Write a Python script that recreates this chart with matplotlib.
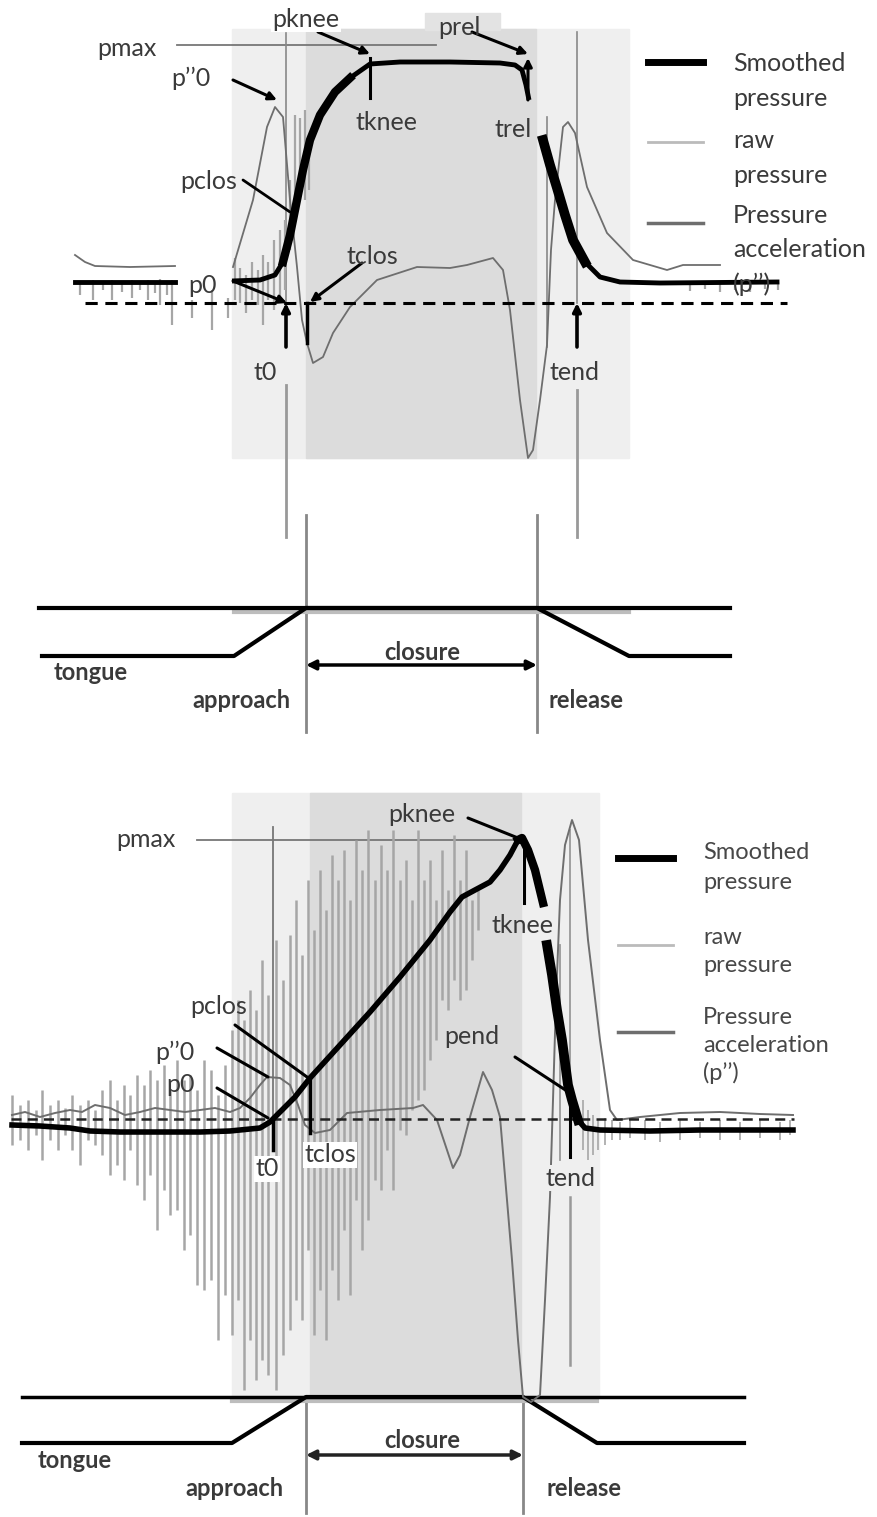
import numpy as np
import matplotlib.pyplot as plt
from matplotlib.patches import Rectangle

plt.rcParams['font.family'] = ['Lato', 'DejaVu Sans']

W, H = 877, 1517

# ---------------- top panel traces (x = time, y = signal, image px) ----------------
top_smooth_t1 = [75, 120, 175]
top_smooth_p1 = [282, 282, 282]
top_smooth_t2 = [232, 260, 275, 283, 290, 297, 303, 310, 320, 335, 350, 370, 400, 450, 500, 515, 522, 526, 529]
top_smooth_p2 = [281, 280, 275, 262, 235, 200, 170, 140, 115, 92, 78, 64, 62, 62, 63, 65, 70, 85, 100]
top_smooth_t3 = [543, 550, 557, 565, 573, 585, 600, 620, 660, 777]
top_smooth_p3 = [140, 165, 188, 215, 240, 262, 277, 282, 283, 282]

top_accel_t1 = [75, 85, 95, 130, 175]
top_accel_p1 = [255, 262, 266, 267, 266]
top_accel_t2 = [233, 253, 267, 275, 283, 290, 297, 302, 307, 313, 323, 333, 350, 377, 417, 450,
                467, 493, 503, 510, 520, 528, 533, 540, 547, 551, 555, 563, 568, 575, 587, 607,
                633, 667, 683, 720]
top_accel_p2 = [267, 200, 127, 107, 117, 200, 267, 320, 343, 363, 357, 333, 307, 280, 267, 268,
                265, 258, 270, 310, 400, 458, 450, 400, 345, 250, 200, 127, 122, 133, 187, 233,
                260, 270, 265, 265]

top_raw_t = [80, 93, 103, 112, 122, 132, 140, 148, 155, 160, 167, 172, 192, 212, 228,
             235, 240, 246, 252, 258, 263, 268, 274, 280, 285, 290, 295, 300, 305, 309,
             690, 705, 720, 735, 750, 765, 778]
top_raw_hi = [282, 280, 283, 280, 282, 280, 283, 280, 282, 279, 283, 280, 300, 290, 298,
              258, 268, 275, 262, 270, 255, 262, 240, 230, 220, 180, 115, 118, 110, 150,
              282, 282, 283, 282, 282, 283, 282]
top_raw_lo = [295, 300, 290, 300, 292, 298, 290, 300, 293, 305, 295, 325, 318, 330, 318,
              300, 303, 313, 300, 305, 325, 300, 310, 300, 290, 250, 205, 200, 200, 190,
              291, 289, 292, 290, 292, 289, 290]

# ---------------- bottom panel traces ----------------
bot_smooth_t1 = [12, 40, 70, 90, 120, 200, 230, 260, 270, 280, 295, 310, 340, 370, 400, 430,
                 450, 462, 475, 490, 500, 510, 518, 522, 528, 535, 543]
bot_smooth_p1 = [1125, 1126, 1128, 1131, 1132, 1132, 1131, 1128, 1122, 1112, 1097, 1078, 1045,
                 1012, 977, 940, 912, 897, 890, 882, 870, 855, 840, 838, 850, 870, 903]
bot_smooth_t2 = [547, 552, 557, 562, 568, 572, 578, 585, 600, 650, 700, 793]
bot_smooth_p2 = [945, 975, 1010, 1040, 1085, 1100, 1120, 1128, 1130, 1131, 1130, 1130]

bot_accel_t = [12, 25, 40, 55, 70, 82, 95, 110, 125, 140, 155, 170, 185, 200, 215, 230, 240,
               250, 260, 267, 280, 290, 298, 305, 315, 330, 347, 380, 413, 423, 437, 453, 460,
               470, 483, 492, 500, 507, 512, 518, 523, 531, 540, 545, 550, 553, 556, 560, 565,
               572, 579, 588, 600, 610, 617, 640, 680, 720, 760, 793]
bot_accel_p = [1115, 1112, 1117, 1113, 1110, 1112, 1105, 1108, 1115, 1112, 1108, 1110, 1112,
               1110, 1108, 1112, 1108, 1098, 1085, 1077, 1078, 1085, 1105, 1125, 1133, 1130,
               1113, 1110, 1108, 1105, 1120, 1168, 1155, 1117, 1072, 1090, 1117, 1200, 1260,
               1340, 1397, 1402, 1395, 1300, 1197, 1100, 1000, 900, 845, 820, 840, 940, 1040,
               1110, 1120, 1117, 1113, 1112, 1114, 1115]

bot_raw_t = [12, 20, 28, 36, 42, 50, 58, 65, 72, 80, 88, 95, 102, 110, 117, 124, 130, 137, 144,
             150, 157, 164, 170, 177, 184, 190, 197, 204, 211, 218, 225, 232, 238, 244, 250,
             256, 262, 268, 276, 283, 290, 296, 302, 308, 314, 320, 326, 332, 338, 344, 350,
             356, 362, 368, 375, 381, 387, 393, 400, 406, 412, 418, 424, 430, 436, 442, 448,
             454, 460, 466, 472, 478]
bot_raw_hi = [1095, 1105, 1100, 1110, 1090, 1105, 1100, 1108, 1095, 1105, 1100, 1110, 1090,
              1080, 1100, 1085, 1095, 1075, 1085, 1070, 1080, 1065, 1090, 1060, 1080, 1075,
              1090, 1060, 1070, 1095, 1065, 1030, 1000, 1020, 990, 1010, 960, 995, 940, 980,
              935, 900, 955, 880, 930, 870, 910, 855, 880, 850, 900, 840, 870, 830, 880, 845,
              870, 830, 880, 860, 900, 830, 880, 860, 900, 850, 890, 835, 880, 850, 900, 890]
bot_raw_lo = [1145, 1140, 1150, 1135, 1160, 1140, 1150, 1135, 1150, 1165, 1140, 1145, 1155,
              1175, 1165, 1180, 1150, 1185, 1200, 1175, 1230, 1190, 1215, 1210, 1250, 1235,
              1285, 1290, 1280, 1340, 1295, 1335, 1300, 1390, 1340, 1380, 1360, 1375, 1390,
              1355, 1330, 1300, 1320, 1250, 1335, 1290, 1340, 1270, 1300, 1230, 1295, 1200,
              1250, 1220, 1180, 1190, 1150, 1190, 1130, 1135, 1110, 1100, 1090, 1060, 1040,
              1000, 1010, 980, 1000, 990, 960, 930]
bot_raw_t2 = [583, 588, 593, 598, 605, 612, 620, 630, 645, 660, 680, 700, 720, 740, 760, 780, 790]
bot_raw_hi2 = [1100, 1110, 1115, 1120, 1118, 1120, 1122, 1120, 1120, 1122, 1120, 1122, 1120,
               1122, 1120, 1122, 1120]
bot_raw_lo2 = [1150, 1160, 1155, 1150, 1145, 1140, 1140, 1138, 1140, 1142, 1140, 1138, 1140,
               1140, 1138, 1140, 1135]

# articulator schematics (jaw line and tongue path)
top_jaw_x = [39, 730]
top_jaw_y = [608, 608]
top_tongue_x = [42, 234, 306, 537, 629, 730]
top_tongue_y = [656, 656, 608, 608, 656, 656]
bot_jaw_x = [22, 744]
bot_jaw_y = [1397, 1397]
bot_tongue_x = [22, 232, 306, 523, 597, 744]
bot_tongue_y = [1443, 1443, 1397, 1397, 1443, 1443]

LIGHT = '#efefef'
DARK = '#dcdcdc'
RAW = '#a6a6a6'
ACC = '#6e6e6e'
TXT = '#3a3a3a'


def arrow(ax, start, end, head=True, lw=2.2):
    ax.annotate('', xy=end, xytext=start,
                arrowprops=dict(arrowstyle='-|>' if head else '-', color='k', lw=lw,
                                mutation_scale=12, shrinkA=0, shrinkB=0), zorder=6)


def label(ax, x, y, s, size=18, color=TXT, box=None, **kw):
    t = ax.text(x, y, s, fontsize=size, color=color, ha='center', va='center', zorder=7, **kw)
    if box:
        t.set_bbox(dict(facecolor=box, edgecolor='none', pad=1))
    return t


def main():
    fig = plt.figure(figsize=(W / 100, H / 100), dpi=100)
    ax = fig.add_axes([0, 0, 1, 1])
    ax.set_xlim(0, W)
    ax.set_ylim(H, 0)
    ax.axis('off')

    # ================= top panel =================
    ax.add_patch(Rectangle((232, 29), 397, 429, color=LIGHT, zorder=0))
    ax.add_patch(Rectangle((306, 29), 230, 429, color=DARK, zorder=0))
    ax.add_patch(Rectangle((425, 13), 75, 17, color='#e3e3e3', zorder=0))

    ax.plot([177, 436], [45, 45], color='#777777', lw=1.3, zorder=2)
    ax.plot([286, 286], [33, 303], color='#888888', lw=1.2, zorder=2)
    ax.plot([577, 577], [32, 303], color='#888888', lw=1.2, zorder=2)
    ax.plot([547, 547], [117, 347], color='#888888', lw=1.2, zorder=2)
    ax.plot([286, 286], [385, 537], color='#999999', lw=2, zorder=2)
    ax.plot([577, 577], [390, 537], color='#999999', lw=2, zorder=2)

    ax.vlines(top_raw_t, top_raw_hi, top_raw_lo, color=RAW, lw=1.6, zorder=3)
    ax.plot(top_accel_t1, top_accel_p1, color=ACC, lw=1.3, zorder=3)
    ax.plot(top_accel_t2, top_accel_p2, color=ACC, lw=1.3, zorder=3)
    ax.plot([85, 787], [303, 303], color='k', lw=2.2, ls=(0, (4, 2.5)), zorder=4)

    ax.plot(top_smooth_t1, top_smooth_p1, color='k', lw=3.5, zorder=5)
    ax.plot(top_smooth_t2, top_smooth_p2, color='k', lw=3.5, zorder=5, solid_capstyle='butt')
    ax.plot(top_smooth_t2[3:11], top_smooth_p2[3:11], color='k', lw=6, zorder=5)
    ax.plot(top_smooth_t3, top_smooth_p3, color='k', lw=3.5, zorder=5)
    ax.plot(top_smooth_t3[:6], top_smooth_p3[:6], color='k', lw=7, zorder=5)

    # markers and annotations
    ax.plot([370, 370], [58, 98], color='k', lw=2.2, zorder=6)
    ax.plot([307, 307], [303, 343], color='k', lw=2.5, zorder=6)
    arrow(ax, (318, 32), (370, 54))
    arrow(ax, (472, 32), (528, 54))
    arrow(ax, (528, 100), (528, 58))
    arrow(ax, (233, 80), (277, 100))
    arrow(ax, (243, 180), (290, 212), head=False, lw=2)
    arrow(ax, (233, 281), (287, 303))
    arrow(ax, (362, 263), (310, 302))
    arrow(ax, (286, 347), (286, 303), lw=2.6)
    arrow(ax, (577, 347), (577, 303), lw=2.6)

    label(ax, 127, 48, 'pmax')
    label(ax, 306, 19, 'pknee', box='white')
    label(ax, 459, 27, 'prel')
    label(ax, 191, 78, 'p\u2019\u20190')
    label(ax, 209, 181, 'pclos')
    label(ax, 203, 285, 'p0')
    label(ax, 386, 122, 'tknee')
    label(ax, 513, 129, 'trel')
    label(ax, 372, 256, 'tclos')
    label(ax, 265, 372, 't0')
    label(ax, 575, 372, 'tend')

    # legend
    ax.plot([648, 703], [62, 62], color='k', lw=5, zorder=5)
    ax.plot([648, 703], [142, 142], color='#bbbbbb', lw=2, zorder=5)
    ax.plot([648, 703], [223, 223], color=ACC, lw=2.5, zorder=5)
    for y, s in [(63, 'Smoothed'), (98, 'pressure'), (140, 'raw'), (175, 'pressure'),
                 (215, 'Pressure'), (249, 'acceleration'), (284, '(p\u2019\u2019)')]:
        ax.text(733, y, s, fontsize=18, color=TXT, ha='left', va='center', zorder=7)

    # articulators
    ax.plot([306, 306], [515, 732], color='#888888', lw=2, zorder=2)
    ax.plot([537, 537], [515, 732], color='#888888', lw=2, zorder=2)
    ax.plot([234, 629], [612, 612], color='#bdbdbd', lw=3, zorder=2)
    ax.plot(top_jaw_x, top_jaw_y, color='k', lw=3, zorder=3)
    ax.plot(top_tongue_x, top_tongue_y, color='k', lw=3, zorder=3)
    ax.annotate('', xy=(537, 665), xytext=(306, 665),
                arrowprops=dict(arrowstyle='<|-|>', color='k', lw=2.5, mutation_scale=14,
                                shrinkA=0, shrinkB=0))
    label(ax, 422, 652, 'closure', size=17, weight='bold')
    label(ax, 91, 672, 'tongue', size=17, weight='bold')
    label(ax, 241, 700, 'approach', size=17, weight='bold')
    label(ax, 586, 700, 'release', size=17, weight='bold')

    # ================= bottom panel =================
    ax.add_patch(Rectangle((232, 793), 367, 604, color=LIGHT, zorder=0))
    ax.add_patch(Rectangle((310, 793), 211, 604, color=DARK, zorder=0))

    ax.plot([197, 518], [840, 840], color='#777777', lw=1.3, zorder=2)
    ax.plot([273, 273], [827, 1120], color='#777777', lw=1.3, zorder=2)
    ax.plot([570, 570], [830, 1100], color='#999999', lw=1.3, zorder=2)
    ax.plot([570, 570], [1197, 1365], color='#999999', lw=1.8, zorder=2)
    ax.plot([560, 560], [945, 1160], color='#999999', lw=1.3, zorder=2)

    ax.vlines(bot_raw_t, bot_raw_hi, bot_raw_lo, color=RAW, lw=1.8, zorder=3)
    ax.vlines(bot_raw_t2, bot_raw_hi2, bot_raw_lo2, color=RAW, lw=1.2, zorder=3)
    ax.plot(bot_accel_t, bot_accel_p, color=ACC, lw=1.4, zorder=4)
    ax.plot([11, 794], [1119, 1119], color='#222222', lw=1.8, ls=(0, (4, 2.5)), zorder=4)

    ax.plot(bot_smooth_t1, bot_smooth_p1, color='k', lw=4, zorder=5)
    ax.plot(bot_smooth_t2, bot_smooth_p2, color='k', lw=4, zorder=5)
    ax.plot(bot_smooth_t1[-5:], bot_smooth_p1[-5:], color='k', lw=6, zorder=5)
    ax.plot(bot_smooth_t2[:7], bot_smooth_p2[:7], color='k', lw=7, zorder=5)

    ax.plot([524, 524], [843, 903], color='k', lw=2.2, zorder=6)
    ax.plot([273, 273], [1118, 1150], color='k', lw=2.5, zorder=6)
    ax.plot([310, 310], [1077, 1133], color='k', lw=2.5, zorder=6)
    ax.plot([570, 570], [1100, 1157], color='k', lw=2.2, zorder=6)
    arrow(ax, (468, 818), (518, 838), head=False)
    arrow(ax, (515, 1057), (570, 1093), head=False)
    arrow(ax, (235, 1025), (307, 1077), head=False)
    arrow(ax, (217, 1048), (268, 1077), head=False)
    arrow(ax, (217, 1088), (268, 1118), head=False)

    label(ax, 146, 839, 'pmax')
    label(ax, 422, 814, 'pknee')
    label(ax, 522, 925, 'tknee')
    label(ax, 472, 1036, 'pend')
    label(ax, 219, 1006, 'pclos')
    label(ax, 175, 1052, 'p\u2019\u20190')
    label(ax, 181, 1084, 'p0')
    label(ax, 267, 1169, 't0', box='white')
    label(ax, 330, 1155, 'tclos', box='white')
    label(ax, 571, 1178, 'tend', box=LIGHT)

    ax.plot([618, 673], [858, 858], color='k', lw=5, zorder=5)
    ax.plot([618, 673], [945, 945], color='#bbbbbb', lw=2, zorder=5)
    ax.plot([618, 673], [1032, 1032], color=ACC, lw=2.5, zorder=5)
    for y, s in [(852, 'Smoothed'), (882, 'pressure'), (937, 'raw'), (965, 'pressure'),
                 (1017, 'Pressure'), (1045, 'acceleration'), (1073, '(p\u2019\u2019)')]:
        ax.text(703, y, s, fontsize=17, color='#474747', ha='left', va='center', zorder=7)

    ax.plot([306, 306], [1397, 1513], color='#888888', lw=2, zorder=2)
    ax.plot([523, 523], [1397, 1513], color='#888888', lw=2, zorder=2)
    ax.plot([232, 597], [1401, 1401], color='#bdbdbd', lw=3, zorder=2)
    ax.plot(bot_jaw_x, bot_jaw_y, color='k', lw=2.5, zorder=3)
    ax.plot(bot_tongue_x, bot_tongue_y, color='k', lw=3, zorder=3)
    ax.annotate('', xy=(523, 1455), xytext=(306, 1455),
                arrowprops=dict(arrowstyle='<|-|>', color='#222222', lw=2.5, mutation_scale=14,
                                shrinkA=0, shrinkB=0))
    label(ax, 422, 1441, 'closure', size=17, weight='bold')
    label(ax, 75, 1460, 'tongue', size=17, weight='bold')
    label(ax, 234, 1488, 'approach', size=17, weight='bold')
    label(ax, 584, 1488, 'release', size=17, weight='bold')

    fig.savefig('out.png', dpi=100)


if __name__ == "__main__":
    main()
